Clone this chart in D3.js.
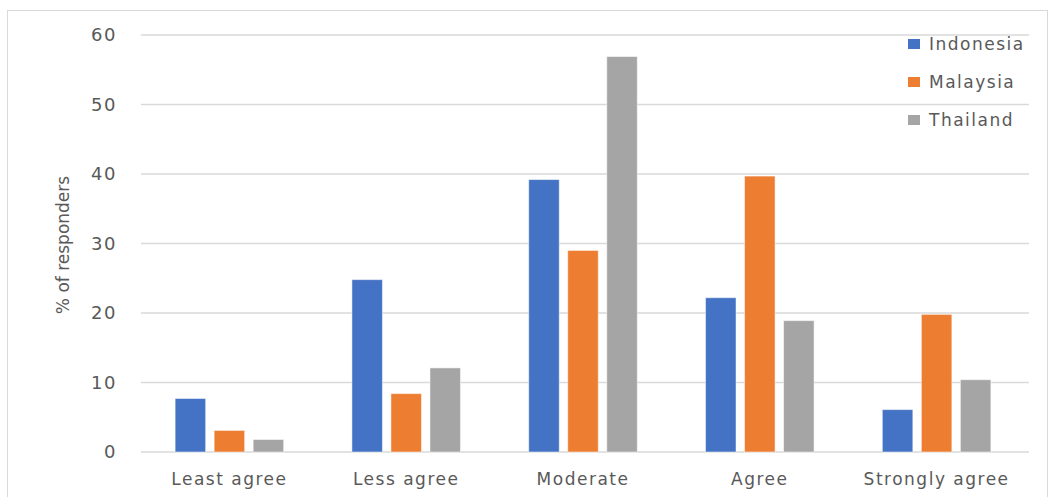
<!DOCTYPE html>
<html>
<head>
<meta charset="utf-8">
<script src="https://cdn.jsdelivr.net/npm/d3@7"></script>
<style>
  html, body { margin: 0; padding: 0; background: #fff; }
  svg { display: block; }
  text { font-family: "DejaVu Sans", sans-serif; fill: #595959; }
</style>
</head>
<body>
<svg id="chart" width="1051" height="497"></svg>
<script>
// Survey responses by agreement level
const categories = ["Least agree", "Less agree", "Moderate", "Agree", "Strongly agree"];
const seriesNames = ["Indonesia", "Malaysia", "Thailand"];
const indonesia = [7.7, 24.8, 39.2, 22.2, 6.1];
const malaysia  = [3.1, 8.4, 29.0, 39.7, 19.8];
const thailand  = [1.8, 12.1, 56.9, 18.9, 10.4];
const yTicks = [0, 10, 20, 30, 40, 50, 60];
const colors = ["#4472C4", "#ED7D31", "#A5A5A5"];

const values = [indonesia, malaysia, thailand];
const rows = categories.map((c, i) => ({
  category: c,
  items: seriesNames.map((s, j) => ({ series: s, value: values[j][i], color: colors[j] }))
}));

const svg = d3.select("#chart");

// Outer chart frame
svg.append("rect")
  .attr("x", 7.5).attr("y", 10.5)
  .attr("width", 1040).attr("height", 500)
  .attr("fill", "none").attr("stroke", "#d9d9d9").attr("stroke-width", 1);

const plot = { left: 141, right: 1029, top: 35, bottom: 452 };

const y = d3.scaleLinear().domain([0, 60]).range([plot.bottom, plot.top]);

const x0 = d3.scaleBand()
  .domain(categories)
  .range([plot.left, 1025])
  .paddingInner(0.386)
  .paddingOuter(0.193);

const x1 = d3.scaleBand()
  .domain(seriesNames)
  .range([0, x0.bandwidth()])
  .paddingInner(0.218);

// Horizontal gridlines
svg.append("g")
  .selectAll("line")
  .data(yTicks)
  .join("line")
  .attr("x1", plot.left).attr("x2", plot.right)
  .attr("y1", d => y(d)).attr("y2", d => y(d))
  .attr("stroke", "#d9d9d9").attr("stroke-width", 1.5);

// Y axis labels
const yAxis = d3.axisLeft(y).tickValues(yTicks).tickSize(0).tickPadding(0);
const yg = svg.append("g").attr("transform", "translate(117,0)").call(yAxis);
yg.select(".domain").remove();
yg.selectAll("text")
  .attr("font-size", 18)
  .attr("font-family", "DejaVu Sans, sans-serif")
  .style("letter-spacing", "1.5px")
  .attr("fill", "#595959");

// Bars
svg.append("g")
  .selectAll("g")
  .data(rows)
  .join("g")
  .attr("transform", d => `translate(${x0(d.category)},0)`)
  .selectAll("rect")
  .data(d => d.items)
  .join("rect")
  .attr("x", d => x1(d.series))
  .attr("width", x1.bandwidth())
  .attr("y", d => y(d.value))
  .attr("height", d => y(0) - y(d.value))
  .attr("fill", d => d.color)
  .attr("stroke", "#ffffff")
  .attr("stroke-opacity", 0.5)
  .attr("stroke-width", 1);

// X axis labels
const xAxis = d3.axisBottom(x0).tickSize(0).tickPadding(0);
const xg = svg.append("g").attr("transform", `translate(0,${plot.bottom})`).call(xAxis);
xg.select(".domain").remove();
xg.selectAll("text")
  .attr("dy", null)
  .attr("y", 33)
  .attr("font-size", 17)
  .attr("font-family", "DejaVu Sans, sans-serif")
  .style("letter-spacing", "1.5px")
  .attr("fill", "#595959");

// Y axis title
svg.append("text")
  .attr("transform", "translate(69,245) rotate(-90)")
  .attr("text-anchor", "middle")
  .attr("font-size", 17)
  .text("% of responders");

// Legend
const legend = svg.append("g")
  .selectAll("g")
  .data(seriesNames)
  .join("g")
  .attr("transform", (d, i) => `translate(908,${44 + i * 38})`);
legend.append("rect")
  .attr("x", 0).attr("y", -5)
  .attr("width", 12).attr("height", 10)
  .attr("fill", (d, i) => colors[i]);
legend.append("text")
  .attr("x", 21).attr("y", 0)
  .attr("dy", "0.35em")
  .attr("font-size", 17)
  .style("letter-spacing", "1.5px")
  .text(d => d);
</script>
</body>
</html>
